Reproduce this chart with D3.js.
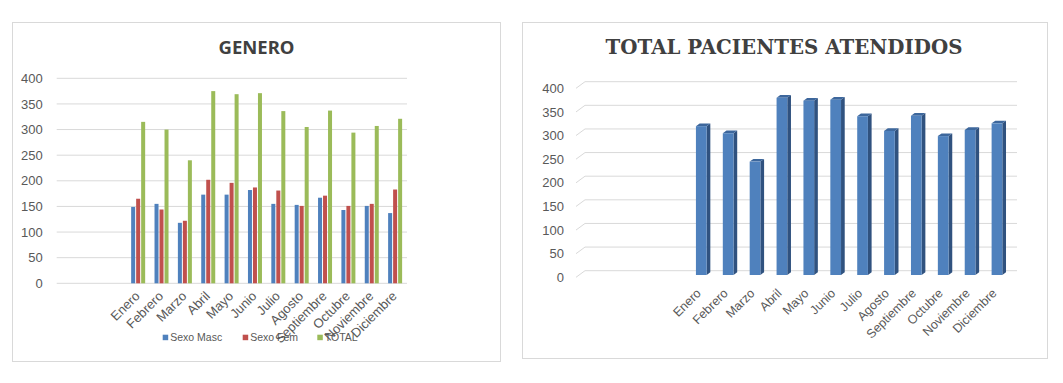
<!DOCTYPE html>
<html>
<head>
<meta charset="utf-8">
<script src="https://cdn.jsdelivr.net/npm/d3@7"></script>
<style>
  body { margin: 0; background: #fff; }
  svg { display: block; }
</style>
</head>
<body>
<div id="chart"></div>
<script>
// Datos
const huecos = ['v1', 'v2', 'v3'] // categorias vacias al inicio del eje
const meses = ['Enero', 'Febrero', 'Marzo', 'Abril', 'Mayo', 'Junio', 'Julio', 'Agosto', 'Septiembre', 'Octubre', 'Noviembre', 'Diciembre']
const sexo_masc = [149, 155, 118, 173, 173, 182, 155, 153, 167, 143, 151, 137]
const sexo_fem = [165, 144, 122, 202, 196, 187, 181, 151, 171, 151, 155, 183]
const total = [315, 300, 240, 375, 369, 371, 336, 305, 337, 294, 307, 321]
const series = ['Sexo Masc', 'Sexo Fem', 'TOTAL']
const ticks_y = [0, 50, 100, 150, 200, 250, 300, 350, 400]

const colores = ['#4f81bd', '#c0504d', '#9bbb59']
const font = '"Liberation Sans", Arial, sans-serif'
const gris_texto = '#595959'
const gris_linea = '#d9d9d9'

const categorias = huecos.concat(meses)
const etiqueta = c => huecos.includes(c) ? '' : c

const svg = d3.select('#chart').append('svg')
  .attr('width', 1063)
  .attr('height', 383)

// ---------- Grafico izquierdo: GENERO ----------
const crear_genero = () => {
  const g = svg.append('g')

  g.append('rect')
    .attr('x', 12.5).attr('y', 22.5)
    .attr('width', 488).attr('height', 339)
    .attr('fill', '#fff')
    .attr('stroke', gris_linea)

  g.append('text')
    .attr('x', 256.5).attr('y', 53.5)
    .attr('text-anchor', 'middle')
    .attr('font-family', '"Noto Sans", sans-serif')
    .attr('font-weight', 'bold')
    .attr('font-size', 18.5)
    .attr('fill', '#404040')
    .text('GENERO')

  const y = d3.scaleLinear().domain([0, 400]).range([283.3, 78.3])
  const x0 = d3.scaleBand().domain(categorias).range([56.4, 406.8])
  const x1 = d3.scaleBand().domain(series).range([0, 14]).paddingInner(0.2)

  // Lineas de division
  g.selectAll('.grid')
    .data(ticks_y)
    .enter()
    .append('line')
    .attr('x1', 56.7).attr('x2', 407)
    .attr('y1', d => y(d)).attr('y2', d => y(d))
    .attr('stroke', gris_linea)
    .attr('stroke-width', 1)

  // Eje y (solo etiquetas)
  const eje_y = g.append('g')
    .attr('transform', 'translate(42.7,0)')
    .call(d3.axisLeft(y).tickValues(ticks_y).tickSize(0).tickPadding(0))
  eje_y.select('.domain').remove()
  eje_y.selectAll('text')
    .attr('font-family', font)
    .attr('font-size', 13)
    .attr('fill', gris_texto)

  // Barras agrupadas
  const filas = meses.map((m, i) => ({ mes: m, valores: [sexo_masc[i], sexo_fem[i], total[i]] }))
  const grupos = g.selectAll('.grupo')
    .data(filas)
    .enter()
    .append('g')
    .attr('transform', d => `translate(${x0(d.mes) + (x0.step() - 14) / 2},0)`)

  grupos.selectAll('rect')
    .data(d => d.valores.map((v, k) => ({ serie: series[k], valor: v, color: colores[k] })))
    .enter()
    .append('rect')
    .attr('x', d => x1(d.serie))
    .attr('y', d => y(d.valor))
    .attr('width', x1.bandwidth())
    .attr('height', d => y(0) - y(d.valor))
    .attr('fill', d => d.color)

  // Etiquetas del eje x giradas
  g.selectAll('.mes')
    .data(categorias)
    .enter()
    .append('text')
    .attr('transform', d => `translate(${x0(d) + x0.step() / 2 + 2.5},297) rotate(-45)`)
    .attr('text-anchor', 'end')
    .attr('font-family', font)
    .attr('font-size', 13)
    .attr('fill', gris_texto)
    .text(etiqueta)

  // Leyenda
  const ley_x = [162.7, 242.7, 317.3]
  const ley = g.selectAll('.ley')
    .data(series)
    .enter()
    .append('g')
    .attr('transform', (d, i) => `translate(${ley_x[i]},334.7)`)
  ley.append('rect')
    .attr('width', 5.5).attr('height', 5.5)
    .attr('fill', (d, i) => colores[i])
  ley.append('text')
    .attr('x', 7.5).attr('y', 6.5)
    .attr('font-family', font)
    .attr('font-size', 10.5)
    .attr('fill', gris_texto)
    .text(d => d)
}

// ---------- Grafico derecho: TOTAL PACIENTES ATENDIDOS ----------
const crear_total = () => {
  const g = svg.append('g')

  g.append('rect')
    .attr('x', 522.5).attr('y', 22.5)
    .attr('width', 525).attr('height', 336)
    .attr('fill', '#fff')
    .attr('stroke', gris_linea)

  g.append('text')
    .attr('x', 784).attr('y', 53.5)
    .attr('text-anchor', 'middle')
    .attr('font-family', '"DejaVu Serif", serif')
    .attr('font-weight', 'bold')
    .attr('font-size', 19.8)
    .attr('fill', '#404040')
    .text('TOTAL PACIENTES ATENDIDOS')

  // Profundidad de la pared y de las barras
  const pared = { dx: 9, dy: -6.6 }
  const prof = { dx: 3.7, dy: -2.7 }

  const y = d3.scaleLinear().domain([0, 400]).range([277.3, 88.3])
  const x = d3.scaleBand().domain(categorias).range([607.2, 1010.4])
  const ancho = 10.7

  // Lineas de division con el tramo diagonal del frente
  g.selectAll('.grid')
    .data(ticks_y)
    .enter()
    .append('path')
    .attr('d', d => `M576,${y(d)} L${576 + pared.dx},${y(d) + pared.dy} L1017,${y(d) + pared.dy}`)
    .attr('fill', 'none')
    .attr('stroke', gris_linea)
    .attr('stroke-width', 1)

  const eje_y = g.append('g')
    .attr('transform', 'translate(564,0)')
    .call(d3.axisLeft(y).tickValues(ticks_y).tickSize(0).tickPadding(0))
  eje_y.select('.domain').remove()
  eje_y.selectAll('text')
    .attr('font-family', font)
    .attr('font-size', 13)
    .attr('fill', gris_texto)

  // Barras 3D: cara frontal, lateral y superior
  const filas = meses.map((m, i) => ({ mes: m, valor: total[i] }))
  const barras = g.selectAll('.barra')
    .data(filas)
    .enter()
    .append('g')

  const x_izq = d => x(d.mes) + (x.step() - ancho) / 2
  const y_sup = d => y(d.valor) - 2.3
  const y_inf = y(0) - 2.3

  barras.append('path')
    .attr('d', d => {
      const xr = x_izq(d) + ancho, yt = y_sup(d)
      return `M${xr},${yt} L${xr + prof.dx},${yt + prof.dy} L${xr + prof.dx},${y_inf + prof.dy} L${xr},${y_inf} Z`
    })
    .attr('fill', '#30527f')

  barras.append('path')
    .attr('d', d => {
      const xl = x_izq(d), xr = xl + ancho, yt = y_sup(d)
      return `M${xl},${yt} L${xl + prof.dx},${yt + prof.dy} L${xr + prof.dx},${yt + prof.dy} L${xr},${yt} Z`
    })
    .attr('fill', '#3d679c')

  barras.append('rect')
    .attr('x', x_izq)
    .attr('y', y_sup)
    .attr('width', ancho)
    .attr('height', d => y_inf - y_sup(d))
    .attr('fill', colores[0])

  g.selectAll('.mes')
    .data(categorias)
    .enter()
    .append('text')
    .attr('transform', d => `translate(${x(d) + x.step() / 2 + 0.5},294) rotate(-45)`)
    .attr('text-anchor', 'end')
    .attr('font-family', font)
    .attr('font-size', 12.5)
    .attr('fill', gris_texto)
    .text(etiqueta)
}

crear_genero()
crear_total()
</script>
</body>
</html>
